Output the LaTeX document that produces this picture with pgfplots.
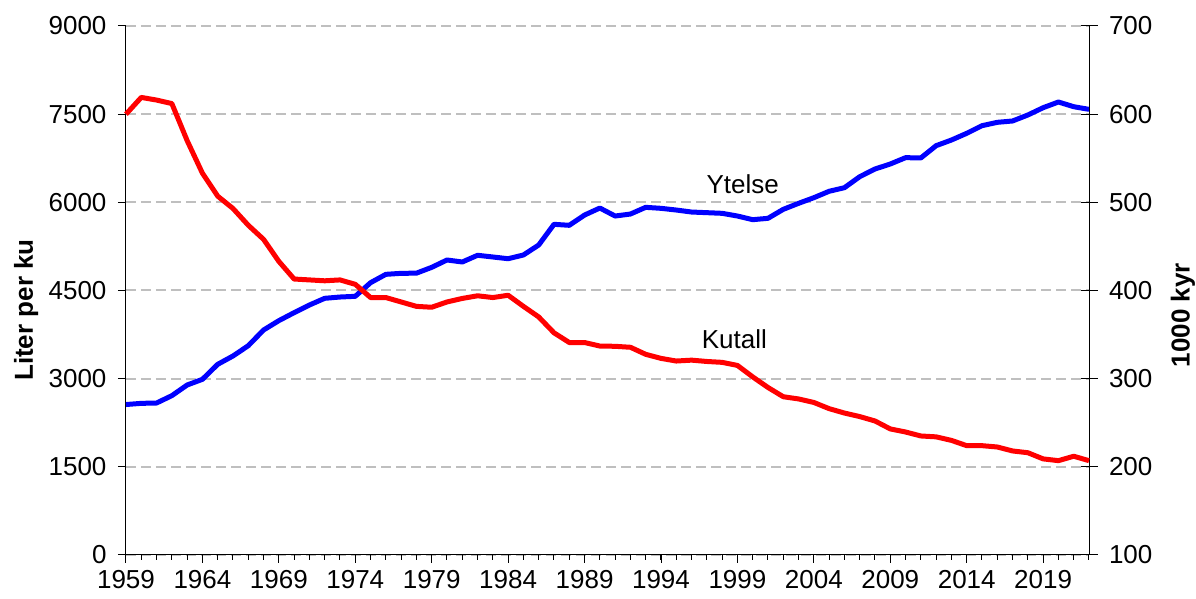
\documentclass[border=0pt]{standalone}
\usepackage{fontspec}
\setmainfont{Liberation Sans}
\usepackage{pgfplots}
\pgfplotsset{compat=1.18}
\usepackage{pgfplotstable}

\pgfplotstableread{
year ytelse
1959 2560
1960 2580
1961 2586
1962 2711
1963 2892
1964 2989
1965 3244
1966 3386
1967 3561
1968 3828
1969 3987
1970 4123
1971 4253
1972 4367
1973 4389
1974 4401
1975 4633
1976 4775
1977 4792
1978 4795
1979 4894
1980 5019
1981 4985
1982 5099
1983 5070
1984 5041
1985 5104
1986 5274
1987 5626
1988 5609
1989 5784
1990 5903
1991 5767
1992 5801
1993 5915
1994 5898
1995 5869
1996 5835
1997 5824
1998 5813
1999 5767
2000 5705
2001 5728
2002 5881
2003 5983
2004 6079
2005 6188
2006 6249
2007 6436
2008 6567
2009 6652
2010 6760
2011 6755
2012 6964
2013 7060
2014 7174
2015 7304
2016 7361
2017 7384
2018 7486
2019 7610
2020 7707
2021 7627
2022 7582
}\ytelsedata

\pgfplotstableread{
year kutall
1959 600
1960 619
1961 616
1962 612
1963 570
1964 533
1965 507
1966 493
1967 474
1968 458
1969 433
1970 413
1971 412
1972 411
1973 412
1974 407
1975 392
1976 392
1977 387
1978 382
1979 381
1980 387
1981 391
1982 394
1983 392
1984 394.6
1985 382
1986 370
1987 352
1988 341
1989 341
1990 337
1991 336.7
1992 335.6
1993 327.6
1994 323
1995 320
1996 321
1997 319.5
1998 318.5
1999 315
2000 302
2001 290
2002 279.5
2003 277
2004 273
2005 266
2006 261
2007 257
2008 252
2009 243
2010 239.5
2011 235
2012 234
2013 230
2014 224
2015 224
2016 222.5
2017 218
2018 216
2019 209
2020 207
2021 212
2022 207
}\kutalldata

\definecolor{gridgray}{RGB}{191,191,191}

\begin{document}
\begin{tikzpicture}[font=\fontsize{26}{31}\selectfont]
\pgfplotsset{
  common/.style={
    scale only axis, width=963pt, height=529pt,
    xmin=1959, xmax=2022,
    at={(0pt,0pt)}, anchor=south west,
    clip=false,
    /pgf/number format/assume math mode=true,
    /pgf/number format/1000 sep={},
    tick label style={font=\fontsize{26}{31}\selectfont},
    axis line style={line width=1pt, black},
    every tick/.style={black, line width=1pt},
  }
}
\begin{axis}[common,
  axis x line*=bottom, axis y line*=left,
  ymin=0, ymax=9000, ytick={0,1500,...,9000},
  xtick={1959,1964,...,2019}, minor xtick={1959,...,2022},
  tick align=outside,
  major tick length=8pt, minor tick length=5pt,
  ymajorgrids,
  grid style={gridgray, line width=2pt, dash pattern=on 10pt off 5pt},
  yticklabel style={xshift=-8pt},
  xticklabel style={yshift=-4pt},
  ylabel={\bfseries Liter per ku},
  ylabel style={at={(axis description cs:-0.1038,0.463)}, anchor=center, rotate=0},
]
\addplot[blue, line width=5pt, line join=round] table[x=year, y=ytelse] {\ytelsedata};
\node at (axis cs:1999.35,6312) {Ytelse};
\node at (axis cs:1998.8,3675) {Kutall};
\end{axis}
\begin{axis}[common,
  axis y line*=right, axis x line=none,
  ymin=100, ymax=700, ytick={100,200,...,700},
  tick align=center, major tick length=17pt,
  yticklabel style={anchor=west, xshift=8pt},
  ylabel={\bfseries 1000 kyr},
  ylabel style={at={(axis description cs:1.0976,0.4537)}, anchor=center},
]
\addplot[red, line width=5pt, line join=round] table[x=year, y=kutall] {\kutalldata};
\end{axis}
\pgfresetboundingbox
\path[use as bounding box] (-126pt,-44pt) rectangle (1070pt,555pt);
\end{tikzpicture}
\end{document}
